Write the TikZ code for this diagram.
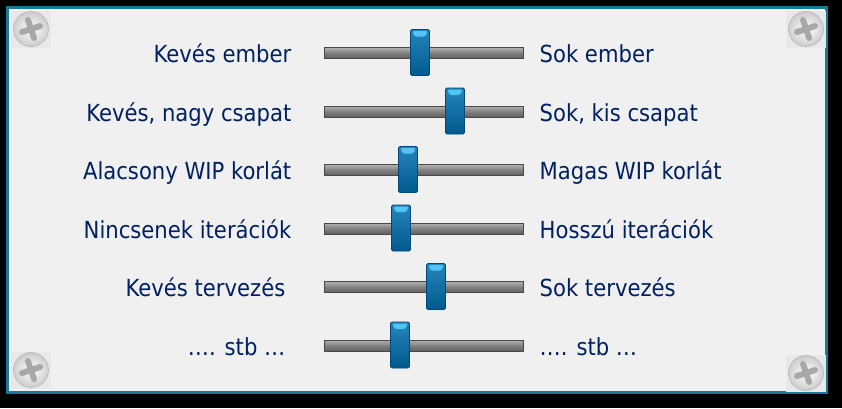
\documentclass[tikz,border=0pt]{standalone}
\usepackage{fontspec}
\setmainfont{DejaVu Sans Condensed}
\usepackage{xcolor}
\usepackage{tikz}
\usetikzlibrary{positioning, calc}
\definecolor{mynavy}{RGB}{0,32,96}
\definecolor{mypanel}{RGB}{240,240,240}
\definecolor{myteal}{RGB}{24,120,152}
\definecolor{mytrack}{RGB}{128,128,128}
\definecolor{mytrackdark}{RGB}{72,72,72}
\definecolor{myknob}{RGB}{0,112,176}
\definecolor{myknobdark}{RGB}{0,70,118}
\definecolor{myknoblight}{RGB}{80,196,244}
\definecolor{myscrew}{RGB}{200,200,200}
\definecolor{mycross}{RGB}{168,168,168}
\definecolor{mypad}{RGB}{232,232,232}
\tikzset{
  track/.style={rectangle, draw=mytrackdark, line width=1pt,
    top color=mytrack!60!white, bottom color=mytrack!75!black,
    middle color=mytrack, minimum width=199pt, minimum height=11pt,
    inner sep=0pt},
  knob/.style={rectangle, draw=myknobdark, line width=0.8pt,
    top color=myknob!85!white, bottom color=myknob!80!black,
    minimum width=19pt, minimum height=46pt, rounded corners=1.5pt,
    inner sep=0pt,
    path picture={
      \fill[myknoblight] ([xshift=2pt,yshift=-1.5pt]path picture bounding box.north west)
        -- ([xshift=-2pt,yshift=-1.5pt]path picture bounding box.north east)
        -- ([xshift=-4pt,yshift=-7pt]path picture bounding box.north east)
        -- ([xshift=4pt,yshift=-7pt]path picture bounding box.north west) -- cycle;
    }},
  label/.style={font=\fontsize{23.5}{28}\selectfont, text=mynavy,
    inner sep=0pt, text height=22pt, text depth=2.6pt},
  screw/.style={rectangle, fill=mypad, minimum width=40pt,
    minimum height=37pt, inner sep=0pt,
    path picture={
      \shade[inner color=white, outer color=myscrew]
        (path picture bounding box.center) circle[radius=17.5pt];
      \draw[myscrew!92!black, line width=0.6pt]
        (path picture bounding box.center) circle[radius=17.5pt];
      \draw[mycross, line width=6pt, line cap=round]
        ([shift={(-9pt,-3pt)}]path picture bounding box.center)
        -- ([shift={(9pt,3pt)}]path picture bounding box.center);
      \draw[mycross, line width=6pt, line cap=round]
        ([shift={(-3pt,9pt)}]path picture bounding box.center)
        -- ([shift={(3pt,-9pt)}]path picture bounding box.center);
    }}
}

\begin{document}
\begin{tikzpicture}[x=1pt, y=-1pt]
  \useasboundingbox (0,0) rectangle (842,408);
  \fill[black] (0,0) rectangle (842,408);
  \draw[myteal, line width=3pt, fill=mypanel] (7,7) rectangle (826.5,392);

  % Screws
  \node[screw] (scrTL) at (31,29) {};
  \node[screw] (scrTR) at (806,29) {};
  \node[screw] (scrBL) at (31,370) {};
  \node[screw] (scrBR) at (806,373) {};

  % Sliders
  \node[track] (track1) at (423.5,53) {};
  \node[track] (track2) at (423.5,111.5) {};
  \node[track] (track3) at (423.5,170) {};
  \node[track] (track4) at (423.5,228.5) {};
  \node[track] (track5) at (423.5,287) {};
  \node[track] (track6) at (423.5,345.5) {};

  \node[knob] (knob1) at (420,52.5) {};
  \node[knob] (knob2) at (455,111) {};
  \node[knob] (knob3) at (408,169.5) {};
  \node[knob] (knob4) at (401,228) {};
  \node[knob] (knob5) at (436,286.5) {};
  \node[knob] (knob6) at (400,345) {};

  % Labels
  \node[label, left=32pt of track1] (lo1) {Kevés ember};
  \node[label, right=16pt of track1] (hi1) {Sok ember};
  \node[label, left=32pt of track2] (lo2) {Kevés, nagy csapat};
  \node[label, right=16pt of track2] (hi2) {Sok, kis csapat};
  \node[label, left=32pt of track3] (lo3) {Alacsony WIP korlát};
  \node[label, right=16pt of track3] (hi3) {Magas WIP korlát};
  \node[label, left=32pt of track4] (lo4) {Nincsenek iterációk};
  \node[label, right=16pt of track4] (hi4) {Hosszú iterációk};
  \node[label, left=38pt of track5] (lo5) {Kevés tervezés};
  \node[label, right=16pt of track5] (hi5) {Sok tervezés};
  \node[label, left=38pt of track6] (lo6) {…. stb …};
  \node[label, right=16pt of track6] (hi6) {…. stb …};
\end{tikzpicture}
\end{document}
